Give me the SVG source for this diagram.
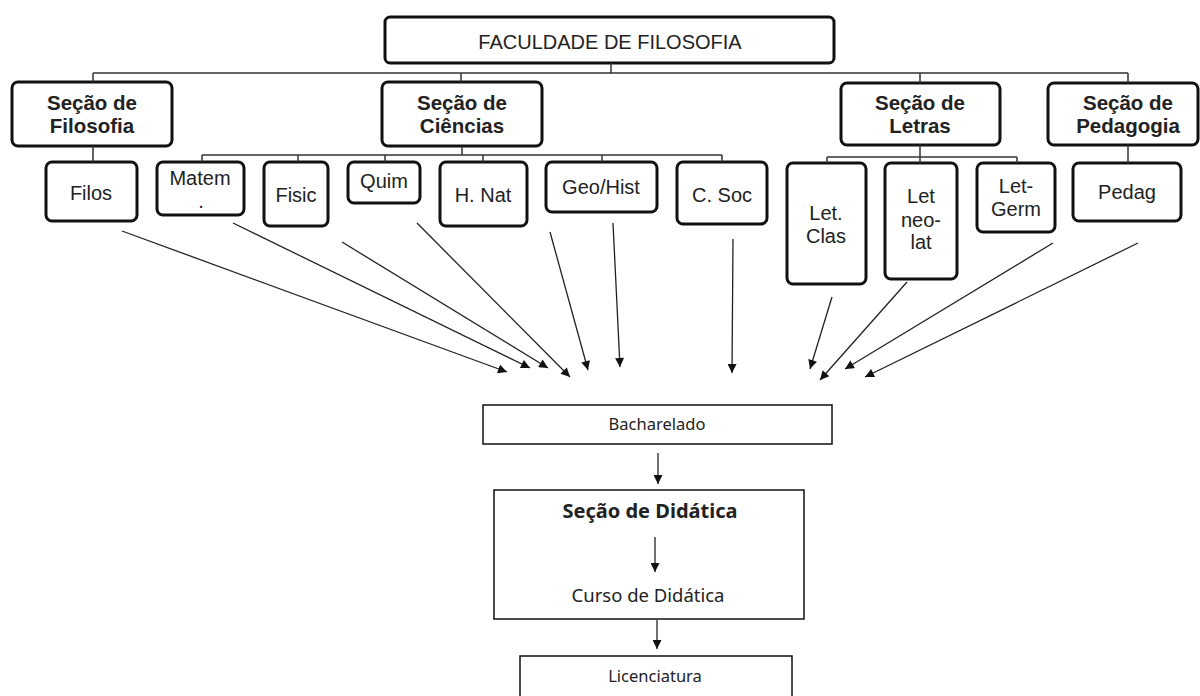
<svg xmlns="http://www.w3.org/2000/svg" width="1200" height="696" viewBox="0 0 1200 696">
<defs>
<marker id="ah" viewBox="0 0 10 10" refX="10" refY="5" markerWidth="12" markerHeight="9" markerUnits="userSpaceOnUse" orient="auto">
<path d="M0,0 L10,5 L0,10 z" fill="#111"/>
</marker>
<style>
.box{fill:#fff;stroke:#111;stroke-width:3}
.sbox{fill:#fff;stroke:#111;stroke-width:1.5}
.tree{fill:none;stroke:#333;stroke-width:1.5}
.arr{fill:none;stroke:#222;stroke-width:1.3;marker-end:url(#ah)}
.t{font-family:"Liberation Sans",Arial,sans-serif;font-size:20px;fill:#222;text-anchor:middle}
.tb{font-family:"Liberation Sans",Arial,sans-serif;font-size:20.5px;font-weight:bold;fill:#222;text-anchor:middle}
.tn{font-family:"Noto Sans","Open Sans",sans-serif;fill:#222;text-anchor:middle}
</style>
</defs>
<rect width="1200" height="696" fill="#fff"/>

<g id="faculdade">
<rect class="box" x="385" y="17" width="449" height="46" rx="5"/>
<text class="t" x="610" y="49" font-size="23">FACULDADE DE FILOSOFIA</text>
</g>

<g id="sec-filosofia">
<rect class="box" x="12" y="82" width="160" height="64" rx="6"/>
<text class="tb" x="92" y="110">Seção de</text>
<text class="tb" x="92" y="133">Filosofia</text>
</g>
<g id="sec-ciencias">
<rect class="box" x="382" y="82" width="160" height="64" rx="6"/>
<text class="tb" x="462" y="110">Seção de</text>
<text class="tb" x="462" y="133">Ciências</text>
</g>
<g id="sec-letras">
<rect class="box" x="841" y="83" width="159" height="62" rx="6"/>
<text class="tb" x="920" y="110">Seção de</text>
<text class="tb" x="920" y="133">Letras</text>
</g>
<g id="sec-pedagogia">
<rect class="box" x="1048" y="83" width="150" height="62" rx="6"/>
<text class="tb" x="1128" y="110">Seção de</text>
<text class="tb" x="1128" y="133">Pedagogia</text>
</g>

<g id="filos">
<rect class="box" x="46" y="162" width="91" height="59" rx="6"/>
<text class="t" x="91" y="200">Filos</text>
</g>
<g id="matem">
<rect class="box" x="157" y="162" width="87" height="53" rx="6"/>
<text class="t" x="200" y="185">Matem</text>
<text class="t" x="201" y="208" font-size="12">.</text>
</g>
<g id="fisic">
<rect class="box" x="264" y="162" width="64" height="64" rx="6"/>
<text class="t" x="296" y="202">Fisic</text>
</g>
<g id="quim">
<rect class="box" x="348" y="162" width="72" height="41" rx="6"/>
<text class="t" x="384" y="188">Quim</text>
</g>
<g id="hnat">
<rect class="box" x="440" y="162" width="87" height="64" rx="6"/>
<text class="t" x="483" y="202">H. Nat</text>
</g>
<g id="geohist">
<rect class="box" x="546" y="162" width="111" height="50" rx="6"/>
<text class="t" x="601" y="194">Geo/Hist</text>
</g>
<g id="csoc">
<rect class="box" x="677" y="162" width="90" height="62" rx="6"/>
<text class="t" x="722" y="202">C. Soc</text>
</g>
<g id="letclas">
<rect class="box" x="787" y="163" width="79" height="121" rx="6"/>
<text class="t" x="826" y="220">Let.</text>
<text class="t" x="826" y="243">Clas</text>
</g>
<g id="letneolat">
<rect class="box" x="885" y="163" width="72" height="116" rx="6"/>
<text class="t" x="921" y="203">Let</text>
<text class="t" x="921" y="227">neo-</text>
<text class="t" x="921" y="249">lat</text>
</g>
<g id="letgerm">
<rect class="box" x="977" y="163" width="78" height="69" rx="6"/>
<text class="t" x="1016" y="193">Let-</text>
<text class="t" x="1016" y="216">Germ</text>
</g>
<g id="pedag">
<rect class="box" x="1073" y="163" width="108" height="58" rx="6"/>
<text class="t" x="1127" y="199">Pedag</text>
</g>

<g id="bacharelado">
<rect class="sbox" x="483" y="405" width="349" height="39"/>
<text class="tn" x="657" y="430" font-size="16.5">Bacharelado</text>
</g>
<g id="secao-didatica">
<rect class="sbox" x="494" y="490" width="310" height="129"/>
<text class="tn" x="650" y="518" font-size="20" font-weight="bold">Seção de Didática</text>
<text class="tn" x="648" y="602" font-size="18.5">Curso de Didática</text>
</g>
<g id="licenciatura">
<rect class="sbox" x="520" y="656" width="272" height="60"/>
<text class="tn" x="655" y="682" font-size="16.5">Licenciatura</text>
</g>

<g id="connectors">
<path class="tree" d="M611,63 V73 M93,73 H1128 M93,73 V82 M461,73 V82 M920,73 V83 M1128,73 V83"/>
<path class="tree" d="M93,146 V162"/>
<path class="tree" d="M462,146 V155 M202,155 H722 M202,155 V162 M298,155 V162 M385,155 V162 M483,155 V162 M602,155 V162 M722,155 V162"/>
<path class="tree" d="M920,145 V157 M827,157 H1017 M827,157 V163 M920,157 V163 M1017,157 V163"/>
<path class="tree" d="M1128,145 V163"/>
<line class="arr" x1="122" y1="231" x2="507" y2="372"/>
<line class="arr" x1="233" y1="223" x2="530" y2="368"/>
<line class="arr" x1="342" y1="242" x2="548" y2="368"/>
<line class="arr" x1="417" y1="223" x2="570" y2="377"/>
<line class="arr" x1="550" y1="232" x2="588" y2="370"/>
<line class="arr" x1="613" y1="223" x2="620" y2="367"/>
<line class="arr" x1="733" y1="239" x2="732" y2="373"/>
<line class="arr" x1="832" y1="297" x2="810" y2="369"/>
<line class="arr" x1="907" y1="282" x2="820" y2="380"/>
<line class="arr" x1="1053" y1="243" x2="845" y2="369"/>
<line class="arr" x1="1138" y1="243" x2="865" y2="377"/>
<line class="arr" x1="658" y1="453" x2="658" y2="484"/>
<line class="arr" x1="655" y1="537" x2="655" y2="572"/>
<line class="arr" x1="657" y1="620" x2="657" y2="649"/>
</g>
</svg>
